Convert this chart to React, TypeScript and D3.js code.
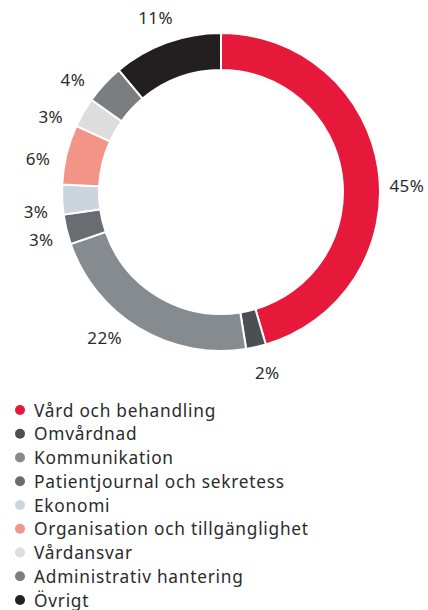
import React from "react";
import * as d3 from "d3";

const categories = [
  "Vård och behandling",
  "Omvårdnad",
  "Kommunikation",
  "Patientjournal och sekretess",
  "Ekonomi",
  "Organisation och tillgänglighet",
  "Vårdansvar",
  "Administrativ hantering",
  "Övrigt",
];
const values = [45, 2, 22, 3, 3, 6, 3, 4, 11];
const labels = ["45%", "2%", "22%", "3%", "3%", "6%", "3%", "4%", "11%"];
const colors = [
  "#e6193b",
  "#4b4f54",
  "#868b90",
  "#696c71",
  "#cdd5dc",
  "#f29486",
  "#dddddd",
  "#7c7d80",
  "#231f20",
];

// label angle nudges (degrees) to mimic the hand-placed labels
const labelNudge = [6.1, -1.7, 7.8, -1.2, -3.2, -3.4, -6.2, -5.5, -0.6];

export default function App() {
  const W = 428;
  const H = 610;
  const cx = 221;
  const cy = 192;
  const rOuter = 159;
  const rInner = 122;
  const rLabel = 186;

  const pie = d3
    .pie<number>()
    .sort(null)
    .value((d) => d);
  const arcs = pie(values);
  const arc = d3.arc<d3.PieArcDatum<number>>().innerRadius(rInner).outerRadius(rOuter);

  const font = "'Noto Sans', Roboto, sans-serif";
  const legendY = d3.scaleLinear().domain([0, categories.length - 1]).range([410, 600]);

  return (
    <svg
      width={W}
      height={H}
      style={{ position: "absolute", left: 0, top: 0, background: "#fff" }}
    >
      <g transform={`translate(${cx},${cy})`}>
        {arcs.map((a, i) => (
          <path key={i} d={arc(a) || ""} fill={colors[i]} stroke="#fff" strokeWidth={2} />
        ))}
        {arcs.map((a, i) => {
          const mid = (a.startAngle + a.endAngle) / 2 + (labelNudge[i] * Math.PI) / 180;
          const x = Math.sin(mid) * rLabel;
          const y = -Math.cos(mid) * rLabel;
          return (
            <text
              key={i}
              x={x}
              y={y}
              textAnchor="middle"
              dominantBaseline="central"
              fontFamily={font}
              fontSize={17}
              letterSpacing={0.4}
              fill="#2b2b2b"
            >
              {labels[i]}
            </text>
          );
        })}
      </g>
      {categories.map((c, i) => (
        <g key={c} transform={`translate(0,${legendY(i)})`}>
          <circle cx={20} cy={0} r={5} fill={colors[i]} />
          <text
            x={34}
            y={0}
            dominantBaseline="central"
            fontFamily={font}
            fontSize={17.3}
            letterSpacing={0.75}
            fill="#2b2b2b"
          >
            {c}
          </text>
        </g>
      ))}
    </svg>
  );
}
